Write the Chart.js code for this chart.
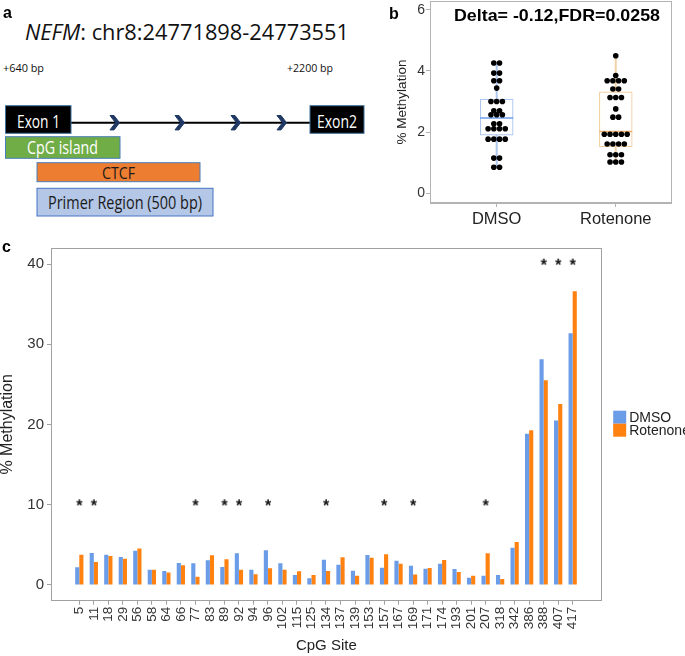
<!DOCTYPE html>
<html><head><meta charset="utf-8">
<script src="https://cdn.jsdelivr.net/npm/chart.js@4.4.1/dist/chart.umd.min.js"></script>
<style>
html,body{margin:0;padding:0;background:#fff;width:685px;height:656px;overflow:hidden;position:relative;font-family:"Liberation Sans",Arial,sans-serif;}
#pa{position:absolute;left:0;top:0;}
#cb{position:absolute;left:380px;top:0;width:305px;height:236px;}
#cc{position:absolute;left:0;top:238px;width:685px;height:418px;}
#ov{position:absolute;left:0;top:0;pointer-events:none;}
</style></head><body>
<svg id="pa" width="380" height="236" font-family="'Open Sans','Noto Sans',sans-serif">
  <text x="25" y="40" font-size="21.5" fill="#111" textLength="324" lengthAdjust="spacingAndGlyphs"><tspan font-style="italic">NEFM</tspan>: chr8:24771898-24773551</text>
  <text x="3" y="72" font-size="11" fill="#111" textLength="41" lengthAdjust="spacingAndGlyphs">+640 bp</text>
  <text x="287" y="72" font-size="11" fill="#111" textLength="46" lengthAdjust="spacingAndGlyphs">+2200 bp</text>
  <line x1="71" y1="122.7" x2="310" y2="122.7" stroke="#000" stroke-width="2"/>
  <g fill="#1f3864" stroke="#1f3864" stroke-width="1" stroke-linejoin="miter">
    <polygon points="110,115.5 114,115.5 119.5,122.7 114,129.9 110,129.9 115.5,122.7"/>
    <polygon points="175,115.5 179,115.5 184.5,122.7 179,129.9 175,129.9 180.5,122.7"/>
    <polygon points="231,115.5 235,115.5 240.5,122.7 235,129.9 231,129.9 236.5,122.7"/>
    <polygon points="277,115.5 281,115.5 286.5,122.7 281,129.9 277,129.9 282.5,122.7"/>
  </g>
  <rect x="5.5" y="105.7" width="65.5" height="27.6" fill="#000" stroke="#41719c" stroke-width="1"/>
  <text x="17" y="127.5" font-size="18" fill="#fff" textLength="43" lengthAdjust="spacingAndGlyphs">Exon 1</text>
  <rect x="310" y="105.7" width="54" height="27.6" fill="#000" stroke="#41719c" stroke-width="1"/>
  <text x="317" y="127.5" font-size="18" fill="#fff" textLength="40" lengthAdjust="spacingAndGlyphs">Exon2</text>
  <rect x="5.5" y="136.7" width="114.5" height="21.6" fill="#70ad47" stroke="#4a7ebb" stroke-width="1"/>
  <text x="27" y="154" font-size="18" fill="#fff" textLength="71" lengthAdjust="spacingAndGlyphs">CpG island</text>
  <rect x="37" y="162.7" width="163" height="19" fill="#ed7d31" stroke="#4a7ebb" stroke-width="1"/>
  <text x="102" y="178.5" font-size="17" fill="#1a1a1a" textLength="33" lengthAdjust="spacingAndGlyphs">CTCF</text>
  <rect x="37" y="188.3" width="176" height="27.7" fill="#b4c7e7" stroke="#4472c4" stroke-width="1"/>
  <text x="48" y="208.5" font-size="18" fill="#1a1a1a" textLength="154" lengthAdjust="spacingAndGlyphs">Primer Region (500 bp)</text>
</svg>
<canvas id="cb" width="305" height="236"></canvas>
<canvas id="cc" width="685" height="418"></canvas>
<svg id="ov" width="685" height="656" font-family="'Liberation Sans',Arial,sans-serif" font-weight="bold">
  <text x="3" y="18" font-size="16" fill="#000">a</text>
  <text x="389" y="19" font-size="16" fill="#000">b</text>
  <text x="2" y="252" font-size="16" fill="#000">c</text>
  <text x="454" y="21" font-size="16.5" fill="#000" textLength="206" lengthAdjust="spacingAndGlyphs">Delta= -0.12,FDR=0.0258</text>
</svg>
<script>
// ---------- Panel c data ----------
const sites = ['5','11','18','29','56','58','64','66','77','83','89','92','94','96','102','115','125','134','137','139','153','157','167','169','171','174','193','201','207','318','342','386','388','407','417'];
const dmsoPct = [2.2,4.0,3.78,3.49,4.27,1.91,1.74,2.74,2.7,3.07,2.24,3.94,1.91,4.32,2.7,1.24,0.83,3.15,2.53,1.78,3.73,2.16,3.03,2.41,2.03,2.66,1.99,0.91,1.16,1.24,4.65,18.84,28.13,20.5,31.37];
const rotenonePct = [3.78,2.86,3.6,3.28,4.56,1.91,1.54,2.45,1.04,3.69,3.2,1.91,1.33,2.07,1.91,1.7,1.24,1.74,3.44,1.16,3.4,3.82,2.66,1.29,2.12,3.11,1.62,1.16,3.94,0.75,5.35,19.3,25.52,22.57,36.6];
const starSites = ['5','11','77','89','92','96','134','157','169','207','388','407','417'];
const starLevel = [10.3,10.3,10.3,10.3,10.3,10.3,10.3,10.3,10.3,10.3,40.3,40.3,40.3];
const cTicks = [0,10,20,30,40];
const seriesNames = ['DMSO','Rotenone'];

// ---------- Panel b data ----------
const boxGroups = ['DMSO','Rotenone'];
const boxQ1 = [1.90,1.52];
const boxMedian = [2.46,2.02];
const boxQ3 = [3.08,3.32];
const whiskerLow = [0.85,1.02];
const whiskerHigh = [4.26,4.5];
const bTicks = [0,2,4,6];
const dmsoDots = [4.26,4.26,3.93,3.93,3.68,3.68,3.44,3.0,3.0,3.0,2.7,2.7,2.57,2.57,2.57,2.27,2.27,2.11,2.11,2.11,2.11,1.77,1.77,1.77,1.77,1.15,1.15,0.85,0.85];
const rotenoneDots = [4.5,3.85,3.68,3.68,3.68,3.68,3.41,3.41,3.13,3.13,3.13,2.76,2.49,2.49,1.93,1.93,1.93,1.93,1.93,1.61,1.61,1.61,1.61,1.26,1.26,1.26,1.02,1.02,1.02];

const FAM = '"Liberation Sans", Arial, sans-serif';
Chart.defaults.font.family = FAM;
Chart.defaults.animation = false;

const blue = '#6b9ce8', orange = '#ff8210';

function swarm(values, gi, step){
  const counts = {}; values.forEach(v => counts[v] = (counts[v]||0)+1);
  const seen = {};
  return values.map(v => { const n = counts[v]; const k = (seen[v] = (seen[v]||0)+1) - 1; return {x: gi + (k-(n-1)/2)*step, y: v}; });
}

// star glyph as point image
const starImg = document.createElement('canvas');
starImg.width = 14; starImg.height = 14;
(function(){ const c = starImg.getContext('2d'); c.fillStyle='#111'; c.font = 'bold 16px ' + FAM; c.textAlign='center'; c.textBaseline='alphabetic'; c.fillText('*', 7, 16.2); })();

const frame = color => ({
  id: 'frame',
  afterDraw(chart){ const {ctx, chartArea:a} = chart; ctx.save(); ctx.strokeStyle = color; ctx.lineWidth = 1;
    ctx.strokeRect(Math.round(a.left)+0.5, Math.round(a.top)+0.5, Math.round(a.right-a.left)-1, Math.round(a.bottom-a.top)-1); ctx.restore(); }
});

const legendPlugin = {
  id: 'sideLegend',
  afterDraw(chart){
    const ctx = chart.ctx; const a = chart.chartArea;
    const x0 = a.right + 11.5, y0 = a.top + 162.7;
    ctx.save();
    ctx.font = '14px ' + FAM; ctx.textBaseline = 'middle';
    chart.data.datasets.slice(0,2).forEach((ds,i) => {
      ctx.fillStyle = ds.backgroundColor; ctx.fillRect(x0, y0 + i*13, 13, 13);
      ctx.fillStyle = '#222'; ctx.fillText(ds.label, x0 + 16, y0 + i*13 + 7);
    });
    ctx.restore();
  }
};

new Chart(document.getElementById('cc'), {
  type: 'bar',
  data: { datasets: [
    { label: seriesNames[0], data: dmsoPct.map((v,i)=>({x:i,y:v})), backgroundColor: blue, categoryPercentage: 0.57, barPercentage: 1, order: 2 },
    { label: seriesNames[1], data: rotenonePct.map((v,i)=>({x:i,y:v})), backgroundColor: orange, categoryPercentage: 0.57, barPercentage: 1, order: 2 },
    { type: 'scatter', label: 'sig', data: starSites.map((s,i)=>({x: sites.indexOf(s), y: starLevel[i]})), pointStyle: starImg, radius: 4, order: 0 }
  ]},
  options: {
    responsive: false, devicePixelRatio: 1, events: [],
    layout: { autoPadding: false, padding: { top: 10, right: 83.3, left: 0, bottom: 0 } },
    plugins: { legend: { display: false }, tooltip: { enabled: false } },
    scales: {
      x: { type: 'linear', min: -1.95, max: 36, offset: false,
        afterBuildTicks: s => { s.ticks = sites.map((_,i)=>({value:i})); },
        afterFit: s => { s.height = 55.3; s.paddingLeft = 0; s.paddingRight = 0; },
        ticks: { autoSkip: false, maxRotation: 90, minRotation: 90, padding: 2, color: '#333', font: { size: 13.5 }, callback: v => sites[v] },
        grid: { offset: false, drawOnChartArea: false, drawTicks: true, tickLength: 4, color: '#a0a0a0' },
        border: { color: '#a0a0a0' },
        title: { display: true, text: 'CpG Site', color: '#222', font: { size: 15 }, padding: { top: 0, bottom: 1 } } },
      y: { min: -1.96, max: 42,
        afterBuildTicks: s => { s.ticks = cTicks.map(v=>({value:v})); },
        afterFit: s => { s.width = 51; s.paddingTop = 0; s.paddingBottom = 0; },
        ticks: { color: '#333', font: { size: 15 }, padding: 3 },
        grid: { drawOnChartArea: false, tickLength: 4, color: '#a0a0a0' },
        border: { color: '#a0a0a0' },
        title: { display: true, text: '% Methylation', color: '#222', font: { size: 16, lineHeight: 1 }, padding: { top: 0, bottom: 0 } } }
    }
  },
  plugins: [frame('#a0a0a0'), legendPlugin]
});

const boxLine = ['#adc7ee', '#f3d1a6'];
const medLine = ['#6d9eeb', '#eab06c'];
new Chart(document.getElementById('cb'), {
  type: 'bar',
  data: { datasets: [
    { data: boxGroups.map((g,i)=>({x:i, y:[whiskerLow[i], whiskerHigh[i]]})), backgroundColor: boxLine, barThickness: 1.3, grouped: false, order: 5 },
    { data: boxGroups.map((g,i)=>({x:i, y:[boxQ1[i], boxQ3[i]]})), backgroundColor: '#fff', borderColor: boxLine, borderWidth: 1.2, borderSkipped: false, barThickness: 33, grouped: false, order: 4 },
    { type: 'scatter', data: boxGroups.map((g,i)=>({x:i, y:boxMedian[i]})), pointStyle: 'line', radius: 16.5, borderColor: medLine, borderWidth: 1.5, order: 3 },
    { type: 'scatter', data: swarm(dmsoDots, 0, 0.048), pointStyle: 'circle', radius: 2.8, backgroundColor: '#000', borderWidth: 0, order: 1 },
    { type: 'scatter', data: swarm(rotenoneDots, 1, 0.048), pointStyle: 'circle', radius: 2.8, backgroundColor: '#000', borderWidth: 0, order: 1 }
  ]},
  options: {
    responsive: false, devicePixelRatio: 1, events: [],
    layout: { autoPadding: false, padding: { top: 1, right: 13.3, left: 0, bottom: 0 } },
    plugins: { legend: { display: false }, tooltip: { enabled: false } },
    scales: {
      x: { type: 'linear', min: -0.56, max: 1.47, offset: false,
        afterBuildTicks: s => { s.ticks = boxGroups.map((_,i)=>({value:i})); },
        afterFit: s => { s.height = 33; s.paddingLeft = 0; s.paddingRight = 0; },
        ticks: { autoSkip: false, maxRotation: 0, padding: 3, color: '#222', font: { size: 16.5 }, callback: v => boxGroups[v] },
        grid: { offset: false, drawOnChartArea: false, tickLength: 4, color: '#b3b3b3' },
        border: { color: '#b3b3b3' } },
      y: { min: -0.32, max: 6.29,
        afterBuildTicks: s => { s.ticks = bTicks.map(v=>({value:v})); },
        afterFit: s => { s.width = 50; s.paddingTop = 0; s.paddingBottom = 0; },
        ticks: { color: '#333', font: { size: 14 }, padding: 1 },
        grid: { drawOnChartArea: false, tickLength: 4, color: '#b3b3b3' },
        border: { color: '#b3b3b3' },
        title: { display: true, text: '% Methylation', color: '#222', font: { size: 13.5, lineHeight: 1.2 }, padding: { top: 14, bottom: 0 } } }
    }
  },
  plugins: [frame('#b3b3b3')]
});
</script>
</body></html>
